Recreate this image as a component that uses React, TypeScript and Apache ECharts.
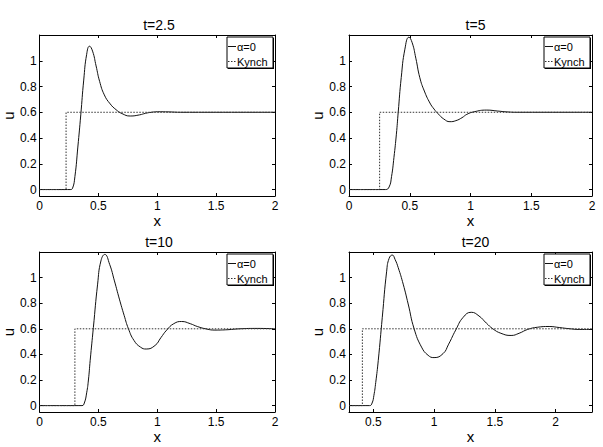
import React, { useEffect, useRef } from "react";
import * as echarts from "echarts";

// ---- Data ----
const titles = ["t=2.5", "t=5", "t=10", "t=20"];
const seriesNames = ["α=0", "Kynch"];
const xTicks = [0, 0.5, 1, 1.5, 2];
const xTicks4 = [0.5, 1, 1.5, 2];
const yTicks = [0, 0.2, 0.4, 0.6, 0.8, 1];
const xRanges: [number, number][] = [[0, 2], [0, 2], [0, 2], [0.3, 2.3]];
const yRange: [number, number] = [-0.05, 1.2];

// Kynch step: x position of the jump, level after the jump
const kynchJump = [0.225, 0.252, 0.3, 0.41];
const kynchLevel = 0.6;

const t25X = [0, 0.26, 0.28, 0.3, 0.325, 0.35, 0.375, 0.4, 0.424, 0.45, 0.48, 0.51, 0.55, 0.6, 0.65, 0.7, 0.77, 0.85, 0.9, 0.95, 1.0, 1.1, 1.2, 2];
const t25U = [0, 0, 0.01, 0.1, 0.33, 0.58, 0.85, 1.05, 1.113, 1.075, 0.96, 0.84, 0.735, 0.665, 0.62, 0.59, 0.571, 0.58, 0.592, 0.6, 0.604, 0.603, 0.6, 0.6];

const t5X = [0, 0.3, 0.33, 0.35, 0.37, 0.39, 0.405, 0.43, 0.46, 0.493, 0.52, 0.55, 0.583, 0.62, 0.666, 0.7, 0.734, 0.78, 0.831, 0.88, 0.93, 0.97, 1.03, 1.134, 1.22, 1.3, 1.4, 2];
const t5U = [0, 0, 0.02, 0.1, 0.25, 0.43, 0.6, 0.87, 1.09, 1.183, 1.14, 1.02, 0.868, 0.765, 0.672, 0.625, 0.588, 0.548, 0.527, 0.535, 0.558, 0.584, 0.604, 0.617, 0.61, 0.603, 0.6, 0.6];

const t10X = [0, 0.36, 0.38, 0.4, 0.415, 0.43, 0.457, 0.493, 0.521, 0.554, 0.595, 0.636, 0.678, 0.719, 0.755, 0.802, 0.857, 0.906, 0.981, 1.03, 1.08, 1.14, 1.207, 1.28, 1.34, 1.42, 1.49, 1.6, 1.7, 1.85, 2];
const t10U = [0, 0, 0.02, 0.1, 0.2, 0.354, 0.61, 0.949, 1.13, 1.181, 1.104, 0.974, 0.832, 0.703, 0.6, 0.509, 0.457, 0.442, 0.47, 0.53, 0.59, 0.64, 0.657, 0.64, 0.618, 0.598, 0.59, 0.593, 0.6, 0.603, 0.6];

const t20X = [0.3, 0.47, 0.49, 0.505, 0.52, 0.541, 0.574, 0.61, 0.63, 0.656, 0.68, 0.705, 0.746, 0.787, 0.836, 0.897, 0.951, 1.0, 1.074, 1.12, 1.178, 1.24, 1.306, 1.37, 1.43, 1.484, 1.55, 1.634, 1.7, 1.77, 1.85, 1.947, 2.03, 2.12, 2.2, 2.3];
const t20U = [0, 0, 0.02, 0.08, 0.18, 0.354, 0.69, 1.05, 1.15, 1.176, 1.14, 1.078, 0.949, 0.794, 0.6, 0.457, 0.393, 0.375, 0.406, 0.48, 0.59, 0.69, 0.729, 0.7, 0.645, 0.6, 0.565, 0.548, 0.565, 0.595, 0.612, 0.618, 0.61, 0.6, 0.595, 0.595];

const curvesX = [t25X, t5X, t10X, t20X];
const curvesU = [t25U, t5U, t10U, t20U];

// ---- Layout ----
const grids = [
  { left: 33, top: 35, width: 242, height: 161 },
  { left: 349, top: 35, width: 243, height: 161 },
  { left: 33, top: 252, width: 242, height: 160 },
  { left: 349, top: 252, width: 243, height: 160 },
];

const FONT = "Liberation Sans";
const SOLID = "#111";
const DOT = "#333";
const DOT_DASH = [1.5, 1.5];

export default function App() {
  const ref = useRef<HTMLDivElement>(null);
  useEffect(() => {
    if (!ref.current) return;
    const chart = echarts.init(ref.current, undefined, { renderer: "svg" });
    const xAxis: any[] = [];
    const yAxis: any[] = [];
    const series: any[] = [];
    const title: any[] = [];
    const graphic: any[] = [];
    const axisLine = { show: true, onZero: false, lineStyle: { color: "#000", width: 1 } };
    grids.forEach((g, i) => {
      const [xmin, xmax] = xRanges[i];
      const xt = i === 3 ? xTicks4 : xTicks;
      xAxis.push({
        type: "value", gridIndex: i, min: xmin, max: xmax, position: "bottom",
        axisLine, splitLine: { show: false },
        axisTick: { show: true, inside: true, length: 3, customValues: xt, lineStyle: { color: "#000" } },
        axisLabel: { show: true, customValues: xt, formatter: (v: number) => String(v), margin: 4, fontSize: 12, color: "#000", fontFamily: FONT },
        name: "x", nameLocation: "middle", nameGap: 14,
        nameTextStyle: { fontSize: 15, color: "#000", fontFamily: FONT },
      });
      xAxis.push({
        type: "value", gridIndex: i, min: xmin, max: xmax, position: "top",
        axisLine, splitLine: { show: false },
        axisTick: { show: true, inside: true, length: 3, customValues: xt, lineStyle: { color: "#000" } },
        axisLabel: { show: false },
      });
      yAxis.push({
        type: "value", gridIndex: i, min: yRange[0], max: yRange[1], position: "left",
        axisLine, splitLine: { show: false },
        axisTick: { show: true, inside: true, length: 3, customValues: yTicks, lineStyle: { color: "#000" } },
        axisLabel: { show: true, customValues: yTicks, formatter: (v: number) => String(v), margin: 3, fontSize: 12, color: "#000", fontFamily: FONT },
        name: "u", nameLocation: "middle", nameGap: 22, nameRotate: 90,
        nameTextStyle: { fontSize: 15, color: "#000", fontFamily: FONT },
      });
      yAxis.push({
        type: "value", gridIndex: i, min: yRange[0], max: yRange[1], position: "right",
        axisLine, splitLine: { show: false },
        axisTick: { show: true, inside: true, length: 3, customValues: yTicks, lineStyle: { color: "#000" } },
        axisLabel: { show: false },
      });
      const data = curvesX[i].map((x, k) => [x, curvesU[i][k]]);
      series.push({
        type: "line", name: seriesNames[0], xAxisIndex: 2 * i, yAxisIndex: 2 * i,
        data, smooth: 0.5, symbol: "none",
        lineStyle: { color: SOLID, width: 1 }, itemStyle: { color: SOLID },
      });
      const j = kynchJump[i];
      series.push({
        type: "line", name: seriesNames[1], xAxisIndex: 2 * i, yAxisIndex: 2 * i,
        data: [[xmin, 0], [j, 0], [j, kynchLevel], [xmax, kynchLevel]],
        symbol: "none",
        lineStyle: { color: DOT, width: 1, type: DOT_DASH }, itemStyle: { color: DOT },
      });
      title.push({
        text: titles[i], left: g.left + g.width / 2, top: g.top - 22, textAlign: "center",
        textStyle: { fontSize: 14, fontWeight: "normal", color: "#000", fontFamily: FONT },
      });
      // legend box (MATLAB style)
      const bx = g.left + g.width - 48;
      const by = g.top + 2;
      const bw = 46;
      const bh = 31;
      graphic.push({ type: "rect", shape: { x: bx + 1, y: by + 1, width: bw, height: bh }, style: { fill: "#000" }, z: 100 });
      graphic.push({ type: "rect", shape: { x: bx, y: by, width: bw, height: bh }, style: { fill: "#fff", stroke: "#000", lineWidth: 1 }, z: 101 });
      graphic.push({ type: "line", shape: { x1: bx + 1, y1: by + 9.5, x2: bx + 9, y2: by + 9.5 }, style: { stroke: SOLID, lineWidth: 1 }, z: 102 });
      graphic.push({ type: "line", shape: { x1: bx + 1, y1: by + 24.5, x2: bx + 9, y2: by + 24.5 }, style: { stroke: DOT, lineWidth: 1, lineDash: DOT_DASH }, z: 102 });
      graphic.push({ type: "text", x: bx + 10, y: by + 9.5, style: { text: seriesNames[0], font: `11px "${FONT}"`, fill: "#000", verticalAlign: "middle" }, z: 102 });
      graphic.push({ type: "text", x: bx + 10, y: by + 24.5, style: { text: seriesNames[1], font: `11px "${FONT}"`, fill: "#000", verticalAlign: "middle" }, z: 102 });
    });
    chart.setOption({
      animation: false,
      backgroundColor: "#fff",
      grid: grids.map((g) => ({ ...g, containLabel: false })),
      xAxis, yAxis, series, title, graphic,
    });
    return () => chart.dispose();
  }, []);
  return <div ref={ref} style={{ position: "absolute", left: 0, top: 0, width: 603, height: 447 }} />;
}
